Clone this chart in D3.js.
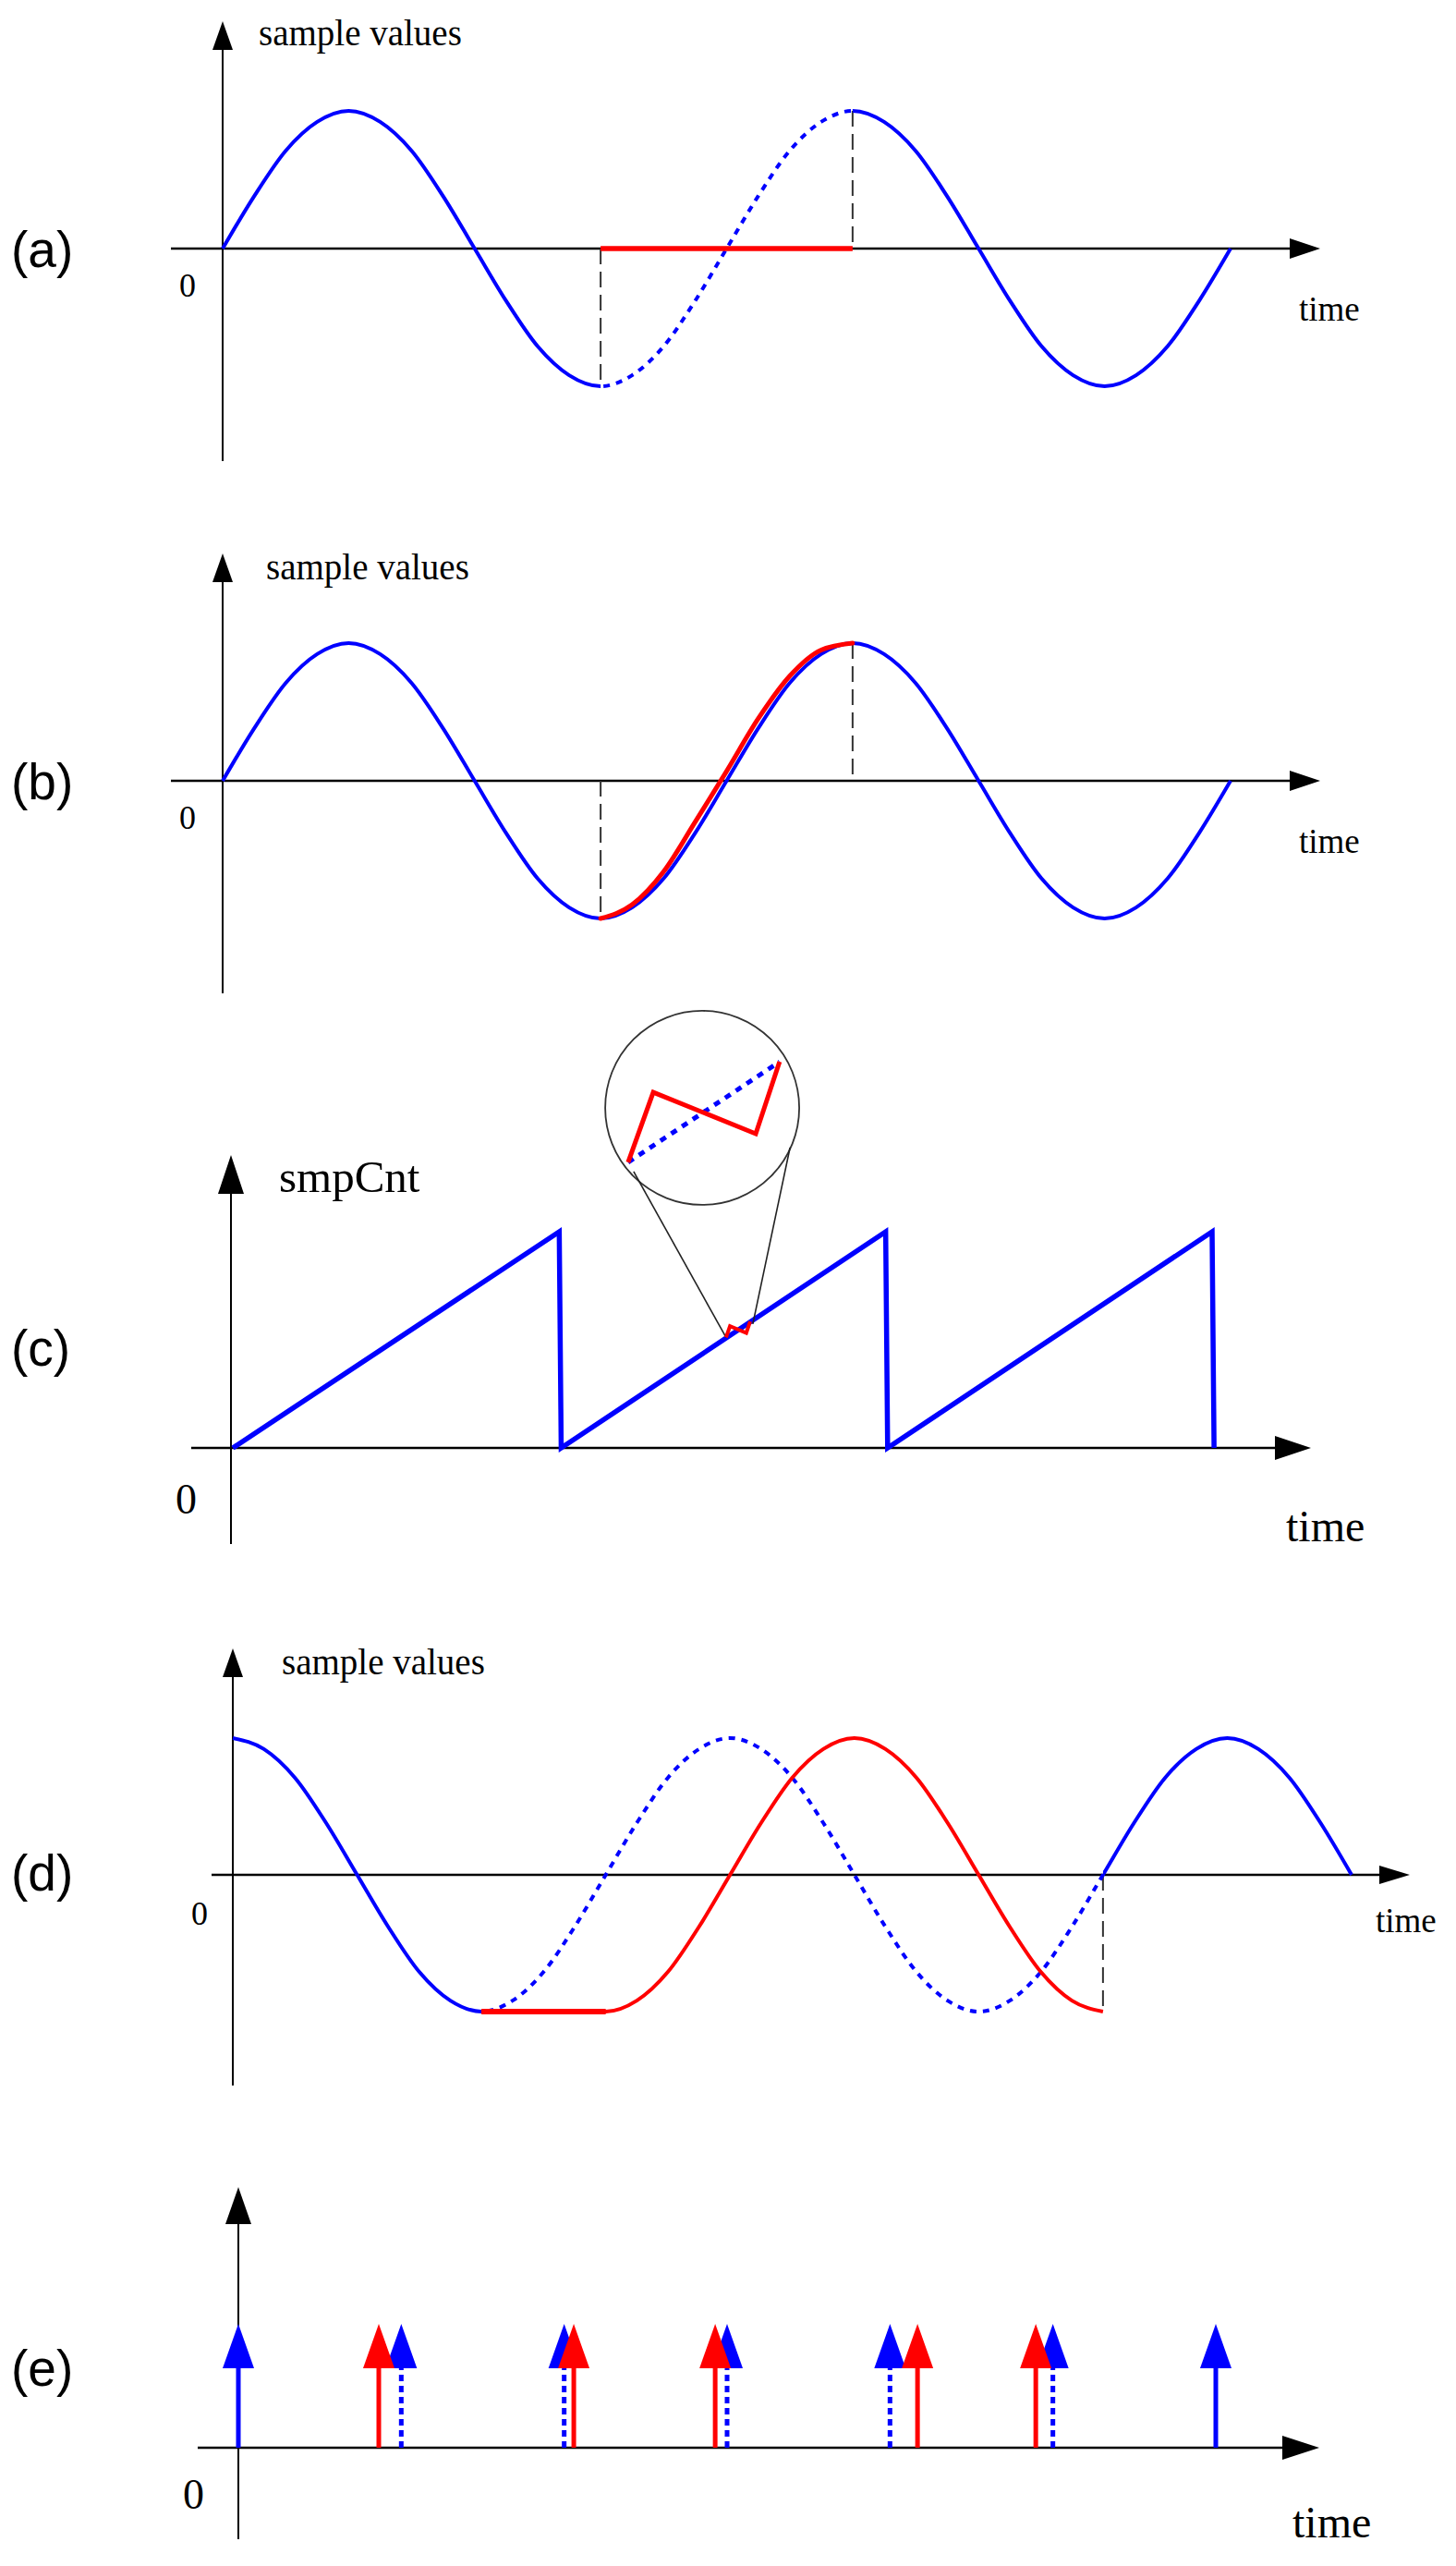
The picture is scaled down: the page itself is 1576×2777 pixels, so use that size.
<!DOCTYPE html>
<html>
<head>
<meta charset="utf-8">
<script src="https://cdn.jsdelivr.net/npm/d3@7"></script>
<style>
  body { margin: 0; background: #fff; }
  svg { display: block; }
</style>
</head>
<body>
<div id="chart"></div>
<script>
// ---- data ----
// (a), (b): one sine over two periods, one value every 1/16 period
const sineValue = [0, 0.38, 0.71, 0.92, 1, 0.92, 0.71, 0.38, 0, -0.38, -0.71, -0.92, -1, -0.92, -0.71, -0.38,
  0, 0.38, 0.71, 0.92, 1, 0.92, 0.71, 0.38, 0, -0.38, -0.71, -0.92, -1, -0.92, -0.71, -0.38, 0];
// (a) lost block, replaced by zeros (in 1/16 period)
const lossStart = 12, lossEnd = 20;
// (b) red concealment curve, a touch ahead of the sine
const concealPhase = [12, 13, 14, 15, 16, 17, 18, 19, 20];
const concealValue = [-1, -0.9, -0.66, -0.3, 0.07, 0.45, 0.76, 0.95, 1];

// (c) smpCnt sawtooth, time in periods
const cntTime = [0, 1, 1.006, 2, 2.006, 3, 3.006];
const cntValue = [0, 1, 0, 1, 0, 1, 0];
// magnifier (same units as the sawtooth)
const lensCenter = [1.438, 1.573];
const lensBig = [[1.211, 1.321], [1.288, 1.645], [1.602, 1.453], [1.675, 1.786]];
const lensSmall = [[1.511, 0.511], [1.523, 0.563], [1.573, 0.532], [1.585, 0.585]];
const lensRays = [
  [[1.228, 1.278], [1.511, 0.511]],
  [[1.707, 1.389], [1.593, 0.573]]
];

// (d) cosine over 2.25 periods, one value every 1/16 period
const cosValue = [1, 0.92, 0.71, 0.38, 0, -0.38, -0.71, -0.92, -1, -0.92, -0.71, -0.38, 0, 0.38, 0.71, 0.92,
  1, 0.92, 0.71, 0.38, 0, -0.38, -0.71, -0.92, -1, -0.92, -0.71, -0.38, 0, 0.38, 0.71, 0.92, 1, 0.92, 0.71, 0.38, 0];
const lostStart = 8, lostEnd = 28;
const holdEnd = 12;
const shiftPhase = [8, 9, 10, 11, 12, 13, 14, 15, 16, 17, 18, 19, 20, 21, 22, 23, 24, 25, 26, 27, 28];
const shiftValue = [-1, -1, -1, -1, -1, -0.92, -0.71, -0.38, 0, 0.38, 0.71, 0.92, 1, 0.92, 0.71, 0.38, 0,
  -0.38, -0.71, -0.92, -1];

// (e) sample instants
const blueTimes = [0, 1, 2, 3, 4, 5, 6];
const blueDotted = [false, true, true, true, true, true, false];
const redTimes = [0.862, 2.059, 2.927, 4.169, 4.895];

// ---- drawing ----
const width = 1576, height = 2777;
const BLUE = "#0000ff", RED = "#ff0000";
const serif = '"Liberation Serif", "Times New Roman", serif';
const sans = '"Liberation Sans", Arial, sans-serif';

const svg = d3.select("#chart").append("svg")
  .attr("width", width).attr("height", height);
const defs = svg.append("defs");

// axes with filled arrow heads
function drawAxes(g, o) {
  g.append("line")
    .attr("x1", o.ox).attr("x2", o.ox)
    .attr("y1", o.bottom).attr("y2", o.top + o.yHead[0] - 2)
    .attr("stroke", "#000").attr("stroke-width", 2);
  g.append("path")
    .attr("d", `M${o.ox},${o.top}L${o.ox - o.yHead[1]},${o.top + o.yHead[0]}L${o.ox + o.yHead[1]},${o.top + o.yHead[0]}Z`)
    .attr("fill", "#000");
  g.append("line")
    .attr("x1", o.left).attr("x2", o.right - o.xHead[0] + 2)
    .attr("y1", o.oy).attr("y2", o.oy)
    .attr("stroke", "#000").attr("stroke-width", 2.5);
  g.append("path")
    .attr("d", `M${o.right},${o.oy}L${o.right - o.xHead[0]},${o.oy - o.xHead[1]}L${o.right - o.xHead[0]},${o.oy + o.xHead[1]}Z`)
    .attr("fill", "#000");
}

function drawTexts(g, o) {
  g.append("text").attr("x", 12).attr("y", o.labelY)
    .style("font-family", sans).style("font-size", "55px").text(o.label);
  g.append("text").attr("x", o.zero[0]).attr("y", o.zero[1])
    .style("font-family", serif).style("font-size", o.zero[2] + "px").text("0");
  if (o.yTitle) {
    g.append("text").attr("x", o.yTitle[1]).attr("y", o.yTitle[2])
      .style("font-family", serif).style("font-size", o.yTitle[3] + "px").text(o.yTitle[0]);
  }
  g.append("text").attr("x", o.xTitle[0]).attr("y", o.xTitle[1])
    .style("font-family", serif).style("font-size", o.xTitle[2] + "px").text("time");
}

function clipX(id, ranges) {
  const cp = defs.append("clipPath").attr("id", id);
  ranges.forEach(function (r) {
    cp.append("rect").attr("x", r[0]).attr("y", 0)
      .attr("width", r[1] - r[0]).attr("height", height);
  });
  return "url(#" + id + ")";
}

function dashedDrop(g, x, y1, y2) {
  g.append("line").attr("x1", x).attr("x2", x).attr("y1", y1).attr("y2", y2)
    .attr("stroke", "#333").attr("stroke-width", 2).attr("stroke-dasharray", "17,8");
}

// ---------- (a) and (b) ----------
function sinePanel(key, dy, textShift) {
  const x = d3.scaleLinear().domain([0, 32]).range([241, 1332]);
  const y = d3.scaleLinear().domain([-1, 1]).range([418 + dy, 120 + dy]);
  const g = svg.append("g");
  drawAxes(g, { ox: x(0), oy: y(0), top: 23 + dy, bottom: 499 + dy, left: 185, right: 1429,
    yHead: [31, 11], xHead: [33, 11] });
  drawTexts(g, { label: "(" + key + ")", labelY: 289 + dy, zero: [194, 321 + dy, 36],
    yTitle: ["sample values", 280 + textShift, 49 + dy + (textShift ? 2 : 0), 39], xTitle: [1406, 347 + dy, 37] });

  dashedDrop(g, x(lossStart), y(0), y(-1));
  dashedDrop(g, x(lossEnd), y(1), y(0));

  const pts = sineValue.map((v, i) => [i, v]);
  const line = d3.line().x(d => x(d[0])).y(d => y(d[1])).curve(d3.curveMonotoneX);

  if (key === "a") {
    g.append("path").attr("d", line(pts))
      .attr("clip-path", clipX("solid-" + key, [[0, x(lossStart)], [x(lossEnd), width]]))
      .attr("fill", "none").attr("stroke", BLUE).attr("stroke-width", 4);
    g.append("path").attr("d", line(pts))
      .attr("clip-path", clipX("dot-" + key, [[x(lossStart), x(lossEnd)]]))
      .attr("fill", "none").attr("stroke", BLUE).attr("stroke-width", 4)
      .attr("stroke-dasharray", "7,7");
    g.append("line")
      .attr("x1", x(lossStart)).attr("x2", x(lossEnd)).attr("y1", y(0)).attr("y2", y(0))
      .attr("stroke", RED).attr("stroke-width", 5.5);
  } else {
    g.append("path").attr("d", line(pts))
      .attr("fill", "none").attr("stroke", BLUE).attr("stroke-width", 4);
    const cpts = concealPhase.map((p, i) => [p, concealValue[i]]);
    g.append("path").attr("d", line(cpts))
      .attr("fill", "none").attr("stroke", RED).attr("stroke-width", 5).attr("stroke-linecap", "round");
  }
}
sinePanel("a", 0, 0);
sinePanel("b", 576, 8);

// ---------- (c) ----------
(function () {
  const x = d3.scaleLinear().domain([0, 3]).range([252, 1312]);
  const y = d3.scaleLinear().domain([0, 1]).range([1567, 1333]);
  const g = svg.append("g");
  drawAxes(g, { ox: 250, oy: y(0), top: 1250, bottom: 1671, left: 207, right: 1419,
    yHead: [42, 14], xHead: [39, 13] });
  drawTexts(g, { label: "(c)", labelY: 1478, zero: [190, 1638, 46],
    yTitle: ["smpCnt", 302, 1290, 49], xTitle: [1392, 1668, 48] });

  const pts = cntTime.map((t, i) => [t, cntValue[i]]);
  const line = d3.line().x(d => x(d[0])).y(d => y(d[1]));
  g.append("path").attr("d", line(pts))
    .attr("fill", "none").attr("stroke", BLUE).attr("stroke-width", 5.5)
    .attr("stroke-linejoin", "miter");

  // magnifier
  g.append("circle")
    .attr("cx", x(lensCenter[0])).attr("cy", y(lensCenter[1])).attr("r", 105)
    .attr("fill", "none").attr("stroke", "#333").attr("stroke-width", 1.8);
  lensRays.forEach(function (r) {
    g.append("line")
      .attr("x1", x(r[0][0])).attr("y1", y(r[0][1]))
      .attr("x2", x(r[1][0])).attr("y2", y(r[1][1]))
      .attr("stroke", "#222").attr("stroke-width", 1.6);
  });
  const first = lensBig[0], last = lensBig[lensBig.length - 1];
  g.append("line")
    .attr("x1", x(first[0])).attr("y1", y(first[1]))
    .attr("x2", x(last[0])).attr("y2", y(last[1]))
    .attr("stroke", BLUE).attr("stroke-width", 5).attr("stroke-dasharray", "7,7");
  g.append("path").attr("d", line(lensBig))
    .attr("fill", "none").attr("stroke", RED).attr("stroke-width", 5);
  g.append("path").attr("d", line(lensSmall))
    .attr("fill", "none").attr("stroke", RED).attr("stroke-width", 4);
})();

// ---------- (d) ----------
(function () {
  const x = d3.scaleLinear().domain([0, 36]).range([252, 1463]);
  const y = d3.scaleLinear().domain([-1, 1]).range([2177, 1881]);
  const g = svg.append("g");
  drawAxes(g, { ox: x(0), oy: y(0), top: 1784, bottom: 2257, left: 229, right: 1526,
    yHead: [31, 11], xHead: [33, 10] });
  drawTexts(g, { label: "(d)", labelY: 2046, zero: [207, 2083, 36],
    yTitle: ["sample values", 305, 1812, 39], xTitle: [1489, 2091, 37] });

  dashedDrop(g, x(lostEnd), y(0), y(-1));

  const pts = cosValue.map((v, i) => [i, v]);
  const line = d3.line().x(d => x(d[0])).y(d => y(d[1])).curve(d3.curveMonotoneX);
  g.append("path").attr("d", line(pts))
    .attr("clip-path", clipX("solid-d", [[0, x(lostStart)], [x(lostEnd), width]]))
    .attr("fill", "none").attr("stroke", BLUE).attr("stroke-width", 4);
  g.append("path").attr("d", line(pts))
    .attr("clip-path", clipX("dot-d", [[x(lostStart), x(lostEnd)]]))
    .attr("fill", "none").attr("stroke", BLUE).attr("stroke-width", 4)
    .attr("stroke-dasharray", "7,7");

  const spts = shiftPhase.map((p, i) => [p, shiftValue[i]]);
  g.append("path").attr("d", line(spts))
    .attr("fill", "none").attr("stroke", RED).attr("stroke-width", 4);
  g.append("line")
    .attr("x1", x(lostStart)).attr("x2", x(holdEnd)).attr("y1", y(-1)).attr("y2", y(-1))
    .attr("stroke", RED).attr("stroke-width", 6);
})();

// ---------- (e) ----------
(function () {
  const x = d3.scaleLinear().domain([0, 6]).range([258, 1316]);
  const y = d3.scaleLinear().domain([0, 1]).range([2649, 2515]);
  const g = svg.append("g");
  drawAxes(g, { ox: x(0), oy: y(0), top: 2367, bottom: 2748, left: 214, right: 1428,
    yHead: [40, 14], xHead: [40, 13] });
  drawTexts(g, { label: "(e)", labelY: 2582, zero: [198, 2715, 46],
    xTitle: [1399, 2746, 48] });

  const headLen = 48, headHalf = 17;
  function impulse(t, color, dotted) {
    const cx = x(t), tip = y(1);
    g.append("line")
      .attr("x1", cx).attr("x2", cx).attr("y1", y(0)).attr("y2", tip + headLen - 1)
      .attr("stroke", color).attr("stroke-width", 5)
      .attr("stroke-dasharray", dotted ? "7,5" : null);
    g.append("path")
      .attr("d", `M${cx},${tip}L${cx - headHalf},${tip + headLen}L${cx + headHalf},${tip + headLen}Z`)
      .attr("fill", color);
  }
  blueTimes.forEach((t, i) => impulse(t, BLUE, blueDotted[i]));
  redTimes.forEach(t => impulse(t, RED, false));
})();
</script>
</body>
</html>
